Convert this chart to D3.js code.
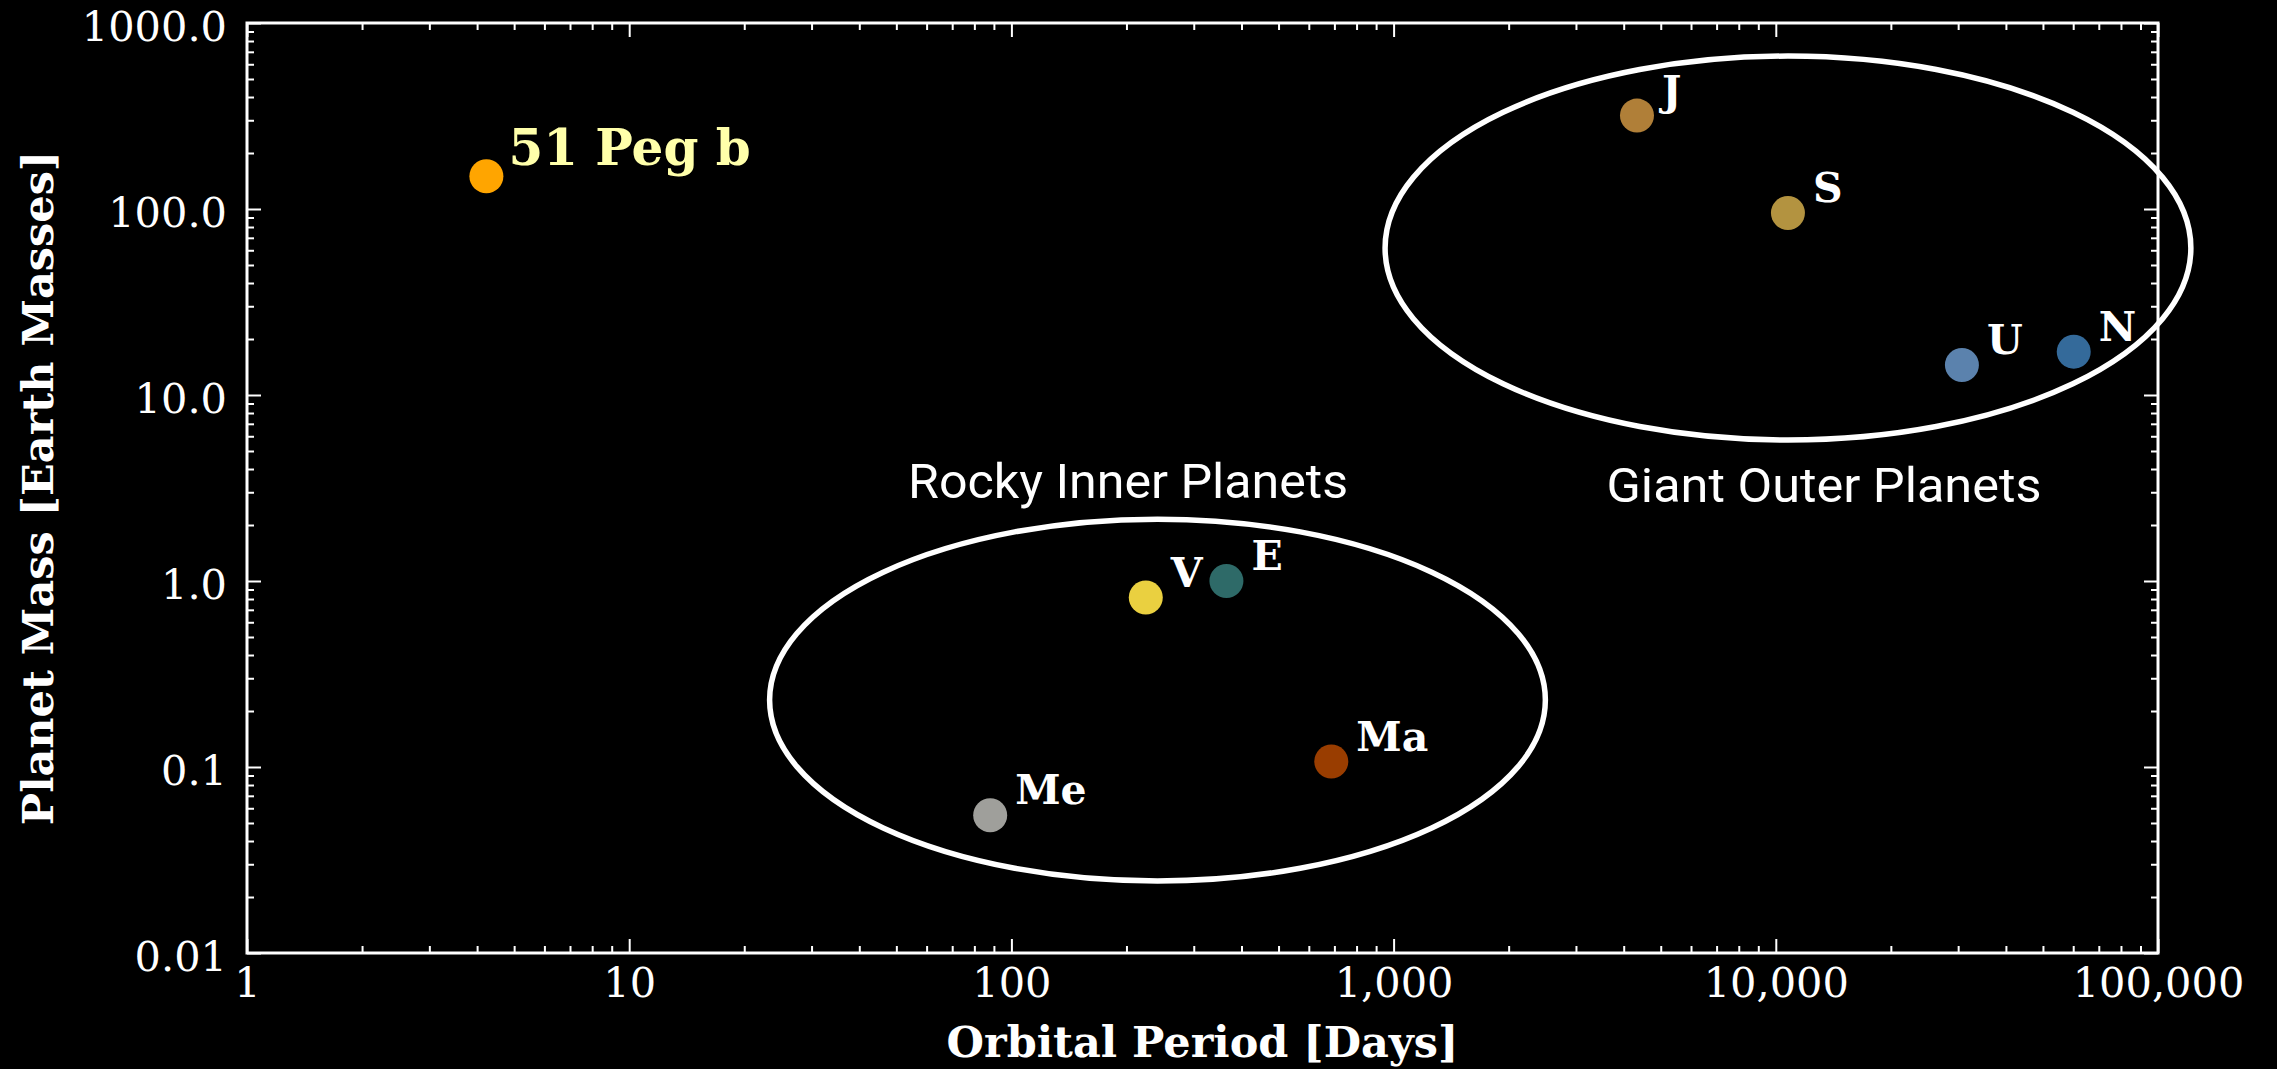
<!DOCTYPE html>
<html>
<head>
<meta charset="utf-8">
<script src="https://cdn.jsdelivr.net/npm/d3@7"></script>
<style>
  html, body { margin: 0; padding: 0; background: #000; }
  svg { display: block; }
</style>
</head>
<body>
<div id="chart"></div>
<script>
// ---------- data ----------
const planetNames   = ["51 Peg b", "Me", "V", "E", "Ma", "J", "S", "U", "N"];
const periodsDays   = [4.23, 88, 224.7, 365.25, 687, 4333, 10759, 30687, 60190];
const massesEarth   = [150, 0.055, 0.815, 1.0, 0.107, 317.8, 95.2, 14.5, 17.1];
const planetColors  = ["#FFA500", "#9F9F9B", "#EAD040", "#2E6A68", "#993D00", "#B07F38", "#B39340", "#5B82AD", "#346A9A"];

const groupNames        = ["Rocky Inner Planets", "Giant Outer Planets"];
const groupPeriodRange  = [[23.3, 2495], [950, 121900]];
const groupMassRange    = [[0.0244, 2.15], [5.73, 664]];
const groupLabelPeriod  = [202, 13370];
const groupLabelMass    = [2.79, 2.66];

const xTickValues = [1, 10, 100, 1000, 10000, 100000];
const xTickLabels = ["1", "10", "100", "1,000", "10,000", "100,000"];
const yTickValues = [0.01, 0.1, 1, 10, 100, 1000];
const yTickLabels = ["0.01", "0.1", "1.0", "10.0", "100.0", "1000.0"];

const xLabel = "Orbital Period [Days]";
const yLabel = "Planet Mass [Earth Masses]";

// ---------- layout ----------
const W = 2277, H = 1069;
const M = { left: 247, right: W - 2158, top: 23, bottom: H - 953 };
const iw = W - M.left - M.right, ih = H - M.top - M.bottom;

const svg = d3.select("#chart").append("svg").attr("width", W).attr("height", H)
  .style("background", "#000");
svg.append("rect").attr("width", W).attr("height", H).attr("fill", "#000");

const g = svg.append("g").attr("transform", `translate(${M.left},${M.top})`);

const x = d3.scaleLog().domain([1, 100000]).range([0, iw]);
const y = d3.scaleLog().domain([0.01, 1000]).range([ih, 0]);

function minors(lo, hi) {
  const out = [];
  for (let d = lo; d < hi; d *= 10) for (let k = 2; k <= 9; k++) out.push(d * k);
  return out;
}
const xMinor = minors(1, 100000);
const yMinor = minors(0.01, 1000);

const serif = "'DejaVu Serif', serif";
const tickFont = 41.5;

function styleAxis(sel) {
  sel.select(".domain").remove();
  sel.selectAll(".tick line").attr("stroke", "#fff").attr("stroke-width", 2);
  sel.selectAll(".tick text").attr("fill", "#fff").style("font-family", serif).style("font-size", tickFont + "px");
}

// bottom
g.append("g").attr("transform", `translate(0,${ih})`)
  .call(d3.axisBottom(x).tickValues(xTickValues).tickSize(-14).tickPadding(15)
    .tickFormat((d, i) => xTickLabels[i])).call(styleAxis);
g.append("g").attr("transform", `translate(0,${ih})`)
  .call(d3.axisBottom(x).tickValues(xMinor).tickSize(-7).tickFormat("")).call(styleAxis);
// top
g.append("g")
  .call(d3.axisTop(x).tickValues(xTickValues).tickSize(-14).tickFormat("")).call(styleAxis);
g.append("g")
  .call(d3.axisTop(x).tickValues(xMinor).tickSize(-7).tickFormat("")).call(styleAxis);
// left
const yAxisG = g.append("g")
  .call(d3.axisLeft(y).tickValues(yTickValues).tickSize(-14).tickPadding(20)
    .tickFormat((d, i) => yTickLabels[i])).call(styleAxis);
yAxisG.selectAll(".tick text").attr("dy", "0.42em");
g.append("g")
  .call(d3.axisLeft(y).tickValues(yMinor).tickSize(-7).tickFormat("")).call(styleAxis);
// right
g.append("g").attr("transform", `translate(${iw},0)`)
  .call(d3.axisRight(y).tickValues(yTickValues).tickSize(-14).tickFormat("")).call(styleAxis);
g.append("g").attr("transform", `translate(${iw},0)`)
  .call(d3.axisRight(y).tickValues(yMinor).tickSize(-7).tickFormat("")).call(styleAxis);

// frame
g.append("rect").attr("x", 0).attr("y", 0).attr("width", iw).attr("height", ih)
  .attr("fill", "none").attr("stroke", "#fff").attr("stroke-width", 3);

// group ellipses
groupNames.forEach((name, i) => {
  const x0 = x(groupPeriodRange[i][0]), x1 = x(groupPeriodRange[i][1]);
  const y0 = y(groupMassRange[i][0]), y1 = y(groupMassRange[i][1]);
  g.append("ellipse")
    .attr("cx", (x0 + x1) / 2).attr("cy", (y0 + y1) / 2)
    .attr("rx", Math.abs(x1 - x0) / 2).attr("ry", Math.abs(y1 - y0) / 2)
    .attr("fill", "none").attr("stroke", "#fff").attr("stroke-width", 5.5);
  g.append("text")
    .attr("x", x(groupLabelPeriod[i])).attr("y", y(groupLabelMass[i]))
    .attr("text-anchor", "middle")
    .attr("fill", "#fff")
    .style("font-family", "Roboto, sans-serif").style("font-size", "49px")
    .attr("textLength", i === 0 ? 440 : 435).attr("lengthAdjust", "spacingAndGlyphs")
    .text(name);
});

// planets
const pts = planetNames.map((n, i) => ({ n, p: periodsDays[i], m: massesEarth[i], c: planetColors[i] }));
g.selectAll("circle.planet").data(pts).enter().append("circle")
  .attr("class", "planet")
  .attr("cx", d => x(d.p)).attr("cy", d => y(d.m)).attr("r", 17)
  .attr("fill", d => d.c);

g.selectAll("text.plabel").data(pts).enter().append("text")
  .attr("class", "plabel")
  .attr("x", (d, i) => x(d.p) + (i === 0 ? 22 : 25)).attr("y", d => y(d.m) - 11)
  .attr("fill", (d, i) => i === 0 ? "#FFFFAA" : "#fff")
  .style("font-family", serif).style("font-weight", "bold")
  .style("font-size", (d, i) => i === 0 ? "50px" : "41px")
  .text(d => d.n);

// axis labels
svg.append("text")
  .attr("x", M.left + iw / 2).attr("y", 1057)
  .attr("text-anchor", "middle").attr("fill", "#fff")
  .style("font-family", serif).style("font-weight", "bold").style("font-size", "43px")
  .text(xLabel);
svg.append("text")
  .attr("transform", `translate(53,${M.top + ih / 2}) rotate(-90)`)
  .attr("text-anchor", "middle").attr("fill", "#fff")
  .style("font-family", serif).style("font-weight", "bold").style("font-size", "43px")
  .text(yLabel);
</script>
</body>
</html>
